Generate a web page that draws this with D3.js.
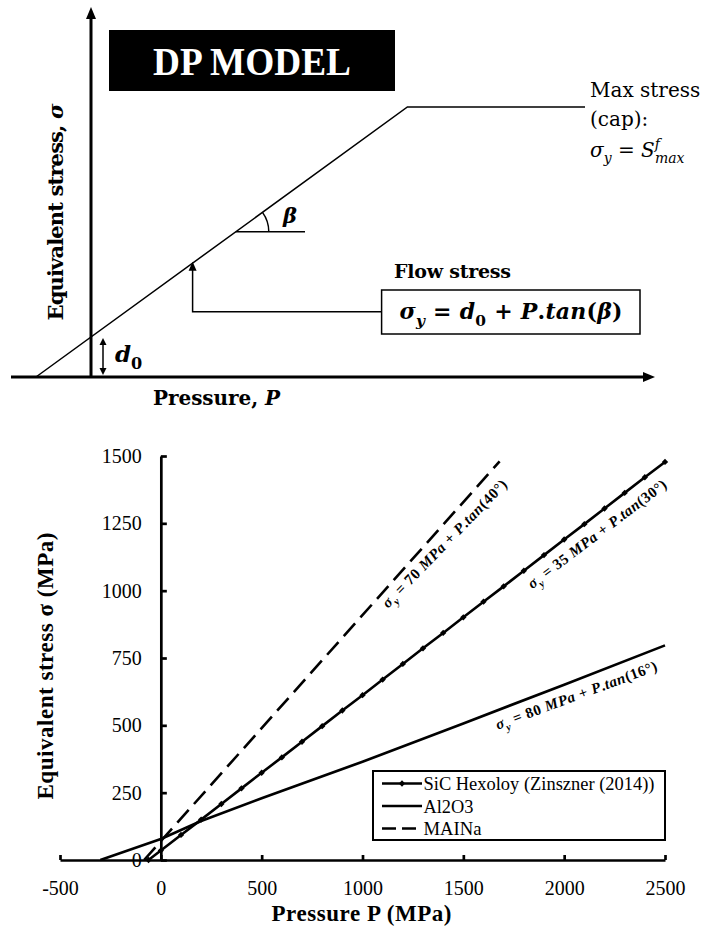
<!DOCTYPE html>
<html>
<head>
<meta charset="utf-8">
<script src="https://cdn.jsdelivr.net/npm/d3@7"></script>
<style>
  html, body { margin: 0; padding: 0; background: #fff; }
  svg { display: block; }
  text { white-space: pre; }
</style>
</head>
<body>
<svg id="fig" width="704" height="930"></svg>
<script>
// ---------- Schematic of the Drucker–Prager yield surface (schematic units) ----------
const dpCurve = [[-1.376, 0], [7.91, 6.75], [12.35, 6.75]]; // [P, σ] vertices: flow line then cap
const dpD0 = 1;                         // intercept d0 on the σ axis
const betaVertex = [3.62, 3.63];        // where the β angle is marked
const betaArmEnd = 5.35;                // end of the horizontal reference arm
const betaDeg = 36;
const flowPointer = { P: 2.54, low: 1.63, high: 2.88 };

// ---------- Measured / fitted yield curves (MPa) ----------
const pressureTicks = [-500, 0, 500, 1000, 1500, 2000, 2500];
const stressTicks = [0, 250, 500, 750, 1000, 1250, 1500];

const sicPressure = [-61, 0, 100, 200, 300, 400, 500, 600, 700, 800, 900, 1000, 1100, 1200,
                     1300, 1400, 1500, 1600, 1700, 1800, 1900, 2000, 2100, 2200, 2300, 2400, 2500];
const sicStress   = [0, 35, 93, 150, 208, 266, 324, 381, 439, 497, 555, 612, 670, 728,
                     786, 843, 901, 959, 1016, 1074, 1132, 1190, 1247, 1305, 1363, 1421, 1478];

const al2o3Pressure = [-300, 0, 200, 500, 1000, 1500, 2000, 2500];
const al2o3Stress   = [0, 78, 145, 229, 365, 507, 651, 797];

const mainaPressure = [-83, 0, 1680];
const mainaStress   = [0, 70, 1480];

const seriesNames = ["SiC Hexoloy (Zinszner (2014))", "Al2O3", "MAINa"];

const svg = d3.select("#fig");
svg.append("rect").attr("width", 704).attr("height", 930).attr("fill", "#fff");

const CAMB = "'DejaVu Serif', serif";
const TIMES = "'Liberation Serif', 'Times New Roman', serif";

// rich text helper: parts = [{t, i, sub, sup, dx}]
function rich(g, x, y, parts, size, opts = {}) {
  const t = g.append("text").attr("x", x).attr("y", y)
    .style("font-size", size + "px").style("font-family", opts.family || CAMB)
    .style("font-weight", opts.weight || "normal")
    .attr("text-anchor", opts.anchor || "start");
  let shift = 0;
  parts.forEach(p => {
    const ts = t.append("tspan").text(p.t);
    const target = p.sub ? size * 0.3 : p.sup ? -size * 0.42 : 0;
    const dy = target - shift;
    if (dy !== 0) ts.attr("dy", dy);
    shift = target;
    if (p.dx) ts.attr("dx", p.dx);
    if (p.sub || p.sup) ts.style("font-size", (size * 0.7) + "px");
    ts.style("font-style", p.i ? "italic" : "normal");
  });
  if (opts.transform) t.attr("transform", opts.transform);
  if (opts.len) t.attr("textLength", opts.len);
  return t;
}

function arrowHead(g, tip, dir, len, half) {
  // dir: unit vector pointing toward the tip
  const [tx, ty] = tip, [dx, dy] = dir;
  const bx = tx - dx * len, by = ty - dy * len;
  const nx = -dy, ny = dx;
  g.append("path")
    .attr("d", `M${tx},${ty}L${bx + nx * half},${by + ny * half}L${bx - nx * half},${by - ny * half}Z`)
    .attr("fill", "#000");
}

// ================= Top panel: schematic =================
const schem = svg.append("g");
const xs = d3.scaleLinear().domain([-2, 14.1]).range([11, 655]);
const ys = d3.scaleLinear().domain([0, 9.25]).range([377, 7]);

// axes with arrows
schem.append("line").attr("x1", xs(-2)).attr("x2", xs(13.85)).attr("y1", ys(0)).attr("y2", ys(0))
  .attr("stroke", "#000").attr("stroke-width", 3);
arrowHead(schem, [xs(14.1), ys(0)], [1, 0], 12, 5);
schem.append("line").attr("x1", xs(0)).attr("x2", xs(0)).attr("y1", ys(0)).attr("y2", ys(9.0))
  .attr("stroke", "#000").attr("stroke-width", 3);
arrowHead(schem, [xs(0), ys(9.25)], [0, -1], 12, 5);

// DP flow line and cap
schem.append("path")
  .attr("d", d3.line().x(d => xs(d[0])).y(d => ys(d[1]))(dpCurve))
  .attr("fill", "none").attr("stroke", "#000").attr("stroke-width", 1.5);

// d0 double arrow
const d0x = xs(0.3);
schem.append("line").attr("x1", d0x).attr("x2", d0x).attr("y1", ys(0) - 7).attr("y2", ys(dpD0) + 6)
  .attr("stroke", "#000").attr("stroke-width", 1.5);
arrowHead(schem, [d0x, ys(0) - 2], [0, 1], 7, 3.5);
arrowHead(schem, [d0x, ys(dpD0) + 1], [0, -1], 7, 3.5);
rich(schem, 115, 362, [{ t: "d", i: true }, { t: "0", sub: true }], 23, { weight: "bold" });

// β angle marker
const bx = xs(betaVertex[0]), by = ys(betaVertex[1]);
schem.append("line").attr("x1", bx).attr("x2", xs(betaArmEnd)).attr("y1", by).attr("y2", by)
  .attr("stroke", "#000").attr("stroke-width", 1.5);
const r = 33, br = betaDeg * Math.PI / 180;
const arcP = d3.path();
arcP.moveTo(bx + r, by);
arcP.arc(bx, by, r, 0, -br, true);
schem.append("path").attr("d", arcP.toString()).attr("fill", "none").attr("stroke", "#000").attr("stroke-width", 1.5);
rich(schem, 283, 223, [{ t: "β", i: true }], 21, { weight: "bold" });

// flow stress pointer and formula box
const fx = xs(flowPointer.P);
schem.append("path")
  .attr("d", `M381.6,${ys(flowPointer.low)}H${fx}V${ys(flowPointer.high) + 8}`)
  .attr("fill", "none").attr("stroke", "#000").attr("stroke-width", 1.5);
arrowHead(schem, [fx, ys(flowPointer.high)], [0, -1], 9, 4);
schem.append("rect").attr("x", 381.6).attr("y", 290).attr("width", 258.4).attr("height", 44)
  .attr("fill", "#fff").attr("stroke", "#000").attr("stroke-width", 1.5);
rich(schem, 511, 319, [
  { t: "σ", i: true }, { t: "y", i: true, sub: true }, { t: " = " },
  { t: "d", i: true }, { t: "0", sub: true }, { t: " + " },
  { t: "P", i: true }, { t: "." }, { t: "tan", i: true }, { t: "(" }, { t: "β", i: true }, { t: ")" }
], 22, { weight: "bold", anchor: "middle", len: 223 });
rich(schem, 394, 278, [{ t: "Flow stress" }], 19, { weight: "bold", len: 117 });

// cap annotation
rich(schem, 590, 97, [{ t: "Max stress" }], 20);
rich(schem, 590, 126, [{ t: "(cap):" }], 20);
rich(schem, 590, 157, [
  { t: "σ", i: true }, { t: "y", i: true, sub: true }, { t: " = " }, { t: "S", i: true },
  { t: "f", i: true, sup: true }, { t: "max", i: true, sub: true, dx: -5 }
], 20);

// title block
schem.append("rect").attr("x", 109).attr("y", 30).attr("width", 286).attr("height", 61).attr("fill", "#000");
schem.append("text").attr("x", 252).attr("y", 75).attr("text-anchor", "middle")
  .style("font-family", TIMES).style("font-weight", "bold").style("font-size", "40px")
  .attr("fill", "#fff").attr("textLength", 198).attr("lengthAdjust", "spacingAndGlyphs")
  .text("DP MODEL");

// axis titles
rich(schem, 216.5, 405, [{ t: "Pressure, " }, { t: "P", i: true }], 20, { weight: "bold", anchor: "middle", len: 127 });
rich(schem, 0, 0, [{ t: "Equivalent stress, " }, { t: "σ", i: true }], 21,
  { weight: "bold", anchor: "middle", len: 217, transform: "translate(63,212) rotate(-90)" });

// ================= Bottom panel: yield curves =================
const x = d3.scaleLinear().domain([-500, 2500]).range([60, 665]);
const y = d3.scaleLinear().domain([0, 1500]).range([860, 456]);
const chart = svg.append("g");

const line = d3.line().x(d => x(d[0])).y(d => y(d[1]));
const zip = (a, b) => a.map((v, i) => [v, b[i]]);

const sicData = zip(sicPressure, sicStress);
const al2o3Data = zip(al2o3Pressure, al2o3Stress);
const mainaData = zip(mainaPressure, mainaStress);

chart.append("path").attr("d", line(al2o3Data)).attr("fill", "none")
  .attr("stroke", "#000").attr("stroke-width", 2.6).attr("stroke-linejoin", "round");
chart.append("path").attr("d", line(mainaData)).attr("fill", "none")
  .attr("stroke", "#000").attr("stroke-width", 2.6).attr("stroke-dasharray", "17,8");
chart.append("path").attr("d", line(sicData)).attr("fill", "none")
  .attr("stroke", "#000").attr("stroke-width", 2.6).attr("stroke-linejoin", "round");

const diamond = d3.symbol().type(d3.symbolSquare).size(20);
chart.selectAll(".mk").data(sicData).join("path").attr("class", "mk")
  .attr("d", diamond)
  .attr("transform", d => `translate(${x(d[0])},${y(d[1])}) rotate(45)`)
  .attr("fill", "#000");

// axes (plain hyphen for negatives)
const fmt = d => String(d);
const xAxis = d3.axisBottom(x).tickValues(pressureTicks).tickSize(-5).tickSizeOuter(0).tickPadding(21)
  .tickFormat(fmt);
const yAxis = d3.axisLeft(y).tickValues(stressTicks).tickSize(-6).tickSizeOuter(0).tickPadding(19)
  .tickFormat(fmt);

const gx = chart.append("g").attr("transform", `translate(0,${y(0)})`).call(xAxis);
const gy = chart.append("g").attr("transform", `translate(${x(0)},0)`).call(yAxis);
[gx, gy].forEach(g => {
  g.attr("font-family", null).attr("font-size", null);
  g.select(".domain").attr("stroke-width", 2.7);
  g.selectAll(".tick line").attr("stroke-width", 2.7);
  g.selectAll(".tick text").style("font-family", TIMES).style("font-size", "20px").attr("fill", "#000");
});

// axis titles
chart.append("text").attr("x", 361.5).attr("y", 921).attr("text-anchor", "middle")
  .style("font-family", TIMES).style("font-weight", "bold").style("font-size", "23px")
  .attr("textLength", 180).text("Pressure P (MPa)");
chart.append("text").attr("transform", "translate(53,666) rotate(-90)").attr("text-anchor", "middle")
  .style("font-family", TIMES).style("font-weight", "bold").style("font-size", "23px")
  .attr("textLength", 267).text("Equivalent stress σ (MPa)");

// curve labels
const labelParts = (c, ang) => [
  { t: "σ", i: true }, { t: "y", i: true, sub: true }, { t: ` = ${c} ` }, { t: "MPa", i: true },
  { t: " + " }, { t: "P", i: true }, { t: "." }, { t: "tan", i: true }, { t: `(${ang}°)` }
];
rich(chart, 0, 0, labelParts(70, 40), 15,
  { family: TIMES, weight: "bold", anchor: "middle", len: 172, transform: "translate(448,547) rotate(-45.8)" });
rich(chart, 0, 0, labelParts(35, 30), 15,
  { family: TIMES, weight: "bold", anchor: "middle", len: 170, transform: "translate(600,538) rotate(-37.1)" });
rich(chart, 0, 0, labelParts(80, 16), 15,
  { family: TIMES, weight: "bold", anchor: "middle", len: 171, transform: "translate(578,700) rotate(-20.4)" });

// legend
const lg = chart.append("g");
lg.append("rect").attr("x", 373).attr("y", 771).attr("width", 292).attr("height", 69)
  .attr("fill", "#fff").attr("stroke", "#000").attr("stroke-width", 2);
const legendRows = [
  { name: seriesNames[0], dash: null, marker: true, len: 231 },
  { name: seriesNames[1], dash: null, marker: false, len: 50 },
  { name: seriesNames[2], dash: "14,6", marker: false, len: 58 }
];
legendRows.forEach((row, i) => {
  const ly = 783.5 + i * 22.5;
  lg.append("line").attr("x1", 382).attr("x2", 422).attr("y1", ly).attr("y2", ly)
    .attr("stroke", "#000").attr("stroke-width", 2.6).attr("stroke-dasharray", row.dash);
  if (row.marker) lg.append("path").attr("d", diamond).attr("transform", `translate(402,${ly}) rotate(45)`).attr("fill", "#000");
  lg.append("text").attr("x", 423.5).attr("y", ly + 6.5)
    .style("font-family", TIMES).style("font-size", "19px")
    .attr("textLength", row.len).attr("lengthAdjust", "spacingAndGlyphs")
    .text(row.name);
});
</script>
</body>
</html>
